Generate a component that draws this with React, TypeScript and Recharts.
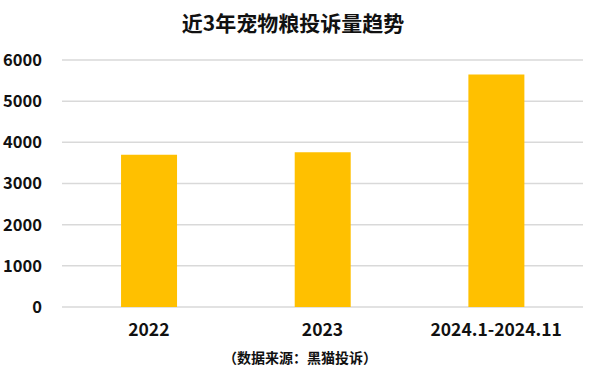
import React from "react"
import { BarChart, Bar, XAxis, YAxis, CartesianGrid } from "recharts"

const categories = ["2022", "2023", "2024.1-2024.11"]
const complaints = [3700, 3760, 5650]
const yTicks = [0, 1000, 2000, 3000, 4000, 5000, 6000]

const data = categories.map((name, i) => ({ name, value: complaints[i] }))

const font = '"Noto Sans CJK SC", "Noto Sans", sans-serif'

export default function App() {
  return (
    <div
      style={{
        position: "fixed",
        left: 0,
        top: 0,
        width: 600,
        height: 370,
        background: "#fff",
        fontFamily: font,
      }}
    >
      <div
        style={{
          position: "absolute",
          top: 7,
          left: 0,
          width: 586,
          textAlign: "center",
          fontSize: 21,
          lineHeight: "30px",
          fontWeight: 700,
          color: "#111",
        }}
      >
        近3年宠物粮投诉量趋势
      </div>
      <BarChart
        width={600}
        height={370}
        data={data}
        margin={{ top: 60, right: 17, bottom: 23, left: 0 }}
        barCategoryGap="34%"
      >
        <CartesianGrid vertical={false} stroke="#d9d9d9" strokeWidth={1.5} />
        <XAxis
          dataKey="name"
          height={40}
          axisLine={false}
          tickLine={false}
          tickMargin={11}
          tick={{ fill: "#111", fontSize: 17.5, fontWeight: 600, fontFamily: font }}
        />
        <YAxis
          width={62}
          domain={[0, 6000]}
          ticks={yTicks}
          axisLine={false}
          tickLine={false}
          tickMargin={14}
          tick={{ fill: "#111", fontSize: 16.5, fontWeight: 600, fontFamily: font }}
        />
        <Bar dataKey="value" fill="#FFC000" isAnimationActive={false} />
      </BarChart>
      <div
        style={{
          position: "absolute",
          top: 347,
          left: 0,
          width: 600,
          textAlign: "center",
          fontSize: 14,
          lineHeight: "20px",
          fontWeight: 600,
          color: "#111",
        }}
      >
        （数据来源：黑猫投诉）
      </div>
    </div>
  )
}
